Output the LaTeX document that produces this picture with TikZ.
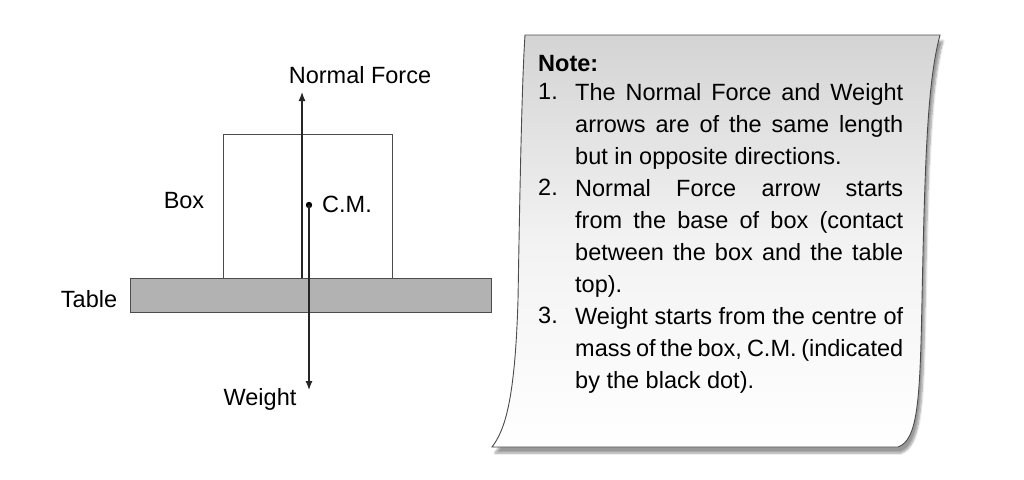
\documentclass[tikz,border=0pt]{standalone}
\usepackage{fontspec}
\setmainfont{Liberation Sans}
\usetikzlibrary{shadows.blur,arrows.meta}
\begin{document}
\begin{tikzpicture}[x=1pt,y=-1pt,
  lbl/.style={font=\fontsize{23.5}{28}\selectfont, inner sep=0pt},
  para/.style={font=\fontsize{23.5}{32}\selectfont, inner sep=0pt, text width=328pt, align=justify, anchor=north west},
  num/.style={font=\fontsize{23.5}{32}\selectfont, inner sep=0pt, anchor=north west},
  arr/.style={-{Latex[length=9pt,width=7pt]}, line width=1.2pt, black!85}]
\useasboundingbox (0,0) rectangle (1024,479);
% scroll panel
\fill[black!35, blur shadow={shadow xshift=3pt, shadow yshift=-6pt, shadow blur steps=8}] (525,35) -- (940,35) .. controls (928,80) and (925,150) .. (922,300) .. controls (920,400) and (918,440) .. (898,447) -- (492,447) .. controls (505,430) and (515,400) .. (518,300) .. controls (520,180) and (522,80) .. (525,35) -- cycle;
\shade[top color=black!17, bottom color=white, middle color=black!5, draw=black!70, line width=0.9pt] (525,35) -- (940,35) .. controls (928,80) and (925,150) .. (922,300) .. controls (920,400) and (918,440) .. (898,447) -- (492,447) .. controls (505,430) and (515,400) .. (518,300) .. controls (520,180) and (522,80) .. (525,35) -- cycle;
\node[lbl, anchor=base west, font=\bfseries\fontsize{23.5}{28}\selectfont] (note) at (538,71) {Note:};
\node[num] (n1) at (538,83) {1.};
\node[para] (p1) at (575,83) {The Normal Force and Weight\linebreak arrows are of the same length\linebreak but in opposite directions.};
\node[num] (n2) at (538,179) {2.};
\node[para] (p2) at (575,179) {Normal Force arrow starts\linebreak from the base of box (contact\linebreak between the box and the table\linebreak top).};
\node[num] (n3) at (538,307) {3.};
\node[para] (p3) at (575,307) {Weight starts from the centre of\linebreak mass of the box, C.M. (indicated\linebreak by the black dot).};
% table and box
\draw[fill=black!30, draw=black!70, line width=0.8pt] (130,278) rectangle (491,312);
\node[draw=black!70, line width=0.8pt, minimum width=169pt, minimum height=144pt, inner sep=0pt] (box) at (307.5,206) {};
\coordinate (nb) at (302,278);
\coordinate (nt) at (302,92);
\fill (309,205) circle (3.2pt) coordinate (cm);
\coordinate (wb) at (309,390);
\draw[arr] (nb) -- (nt);
\draw[arr] (cm) -- (wb);
\node[lbl] (nf) at (360,75) {Normal Force};
\node[lbl] (boxl) at (184,201) {Box};
\node[lbl] (cml) at (347,204) {C.M.};
\node[lbl] (tbl) at (89,299) {Table};
\node[lbl] (wl) at (260,399) {Weight};
\end{tikzpicture}
\end{document}
